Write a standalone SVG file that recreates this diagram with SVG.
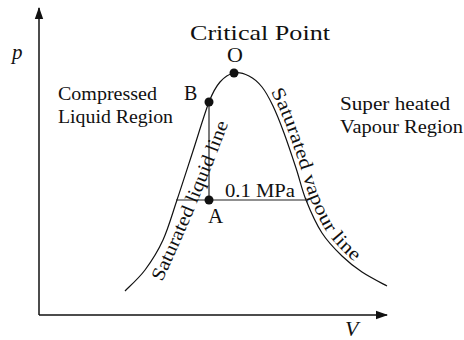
<svg xmlns="http://www.w3.org/2000/svg" width="464" height="340" viewBox="0 0 464 340">
<style>
  text { font-family: 'Liberation Serif', 'DejaVu Serif', serif; fill: #111; }
  .it { font-style: italic; }
  .ax { stroke: #111; stroke-width: 1.5; fill: none; }
  .cv { stroke: #111; stroke-width: 1.2; fill: none; }
  .ln { stroke: #222; stroke-width: 1.2; fill: none; }
  .dot { fill: #111; }
</style>
<defs>
  <marker id="arr" viewBox="0 0 12 10" refX="11" refY="5" markerWidth="12" markerHeight="10" markerUnits="userSpaceOnUse" orient="auto">
    <path d="M0,0.8 L12,5 L0,9.2 Z" fill="#111"/>
  </marker>
  <path id="leftBranch" d="M125,291 C128.3,287.5 138.7,278.5 145,270 C151.3,261.5 157.7,251.7 163,240 C168.3,228.3 172,214.8 177,200 C182,185.2 187.7,167.3 193,151 C198.3,134.7 204.5,113.5 209,102 C213.5,90.5 215.8,86.8 220,82 C224.2,77.2 229.2,74 234,73"/>
  <path id="rightBranch" d="M234,73 C238.8,72 244.3,73.7 249,76 C253.7,78.3 258,82 262,87 C266,92 269.3,98.3 273,106 C276.7,113.7 280.2,122.7 284,133 C287.8,143.3 292.3,156.8 296,168 C299.7,179.2 301.7,189.2 306,200 C310.3,210.8 316,223.7 322,233 C328,242.3 335.3,249.5 342,256 C348.7,262.5 354.5,267 362,272 C369.5,277 382.8,283.7 387,286"/>
  <path id="liqText" d="M162,282 Q197,208 230,119"/>
</defs>

<g id="axes">
  <line class="ax" x1="39" y1="315" x2="39" y2="8" marker-end="url(#arr)"/>
  <line class="ax" x1="39" y1="315" x2="387" y2="315" marker-end="url(#arr)"/>
  <text class="it" x="12" y="59" font-size="21">p</text>
  <text class="it" x="345" y="336" font-size="22">V</text>
</g>

<g id="connectors">
  <use href="#leftBranch" class="cv"/>
  <use href="#rightBranch" class="cv"/>
  <line class="ln" x1="176" y1="200" x2="306" y2="200"/>
  <line class="ln" x1="209" y1="102" x2="209" y2="200"/>
</g>

<g id="node-O">
  <circle class="dot" cx="234" cy="73" r="4.5"/>
  <text x="227" y="62" font-size="22">O</text>
  <text x="190" y="40" font-size="22" textLength="140" lengthAdjust="spacingAndGlyphs">Critical Point</text>
</g>
<g id="node-B">
  <circle class="dot" cx="209" cy="102" r="4.5"/>
  <text x="184" y="100" font-size="20">B</text>
</g>
<g id="node-A">
  <circle class="dot" cx="209" cy="200" r="4.5"/>
  <text x="208" y="223" font-size="21">A</text>
</g>

<g id="labels">
  <text x="225" y="197" font-size="18" textLength="70" lengthAdjust="spacingAndGlyphs">0.1 MPa</text>
  <text x="58" y="100" font-size="19" textLength="99" lengthAdjust="spacingAndGlyphs">Compressed</text>
  <text x="58" y="123" font-size="19" textLength="115" lengthAdjust="spacingAndGlyphs">Liquid Region</text>
  <text x="340" y="110" font-size="19" textLength="110" lengthAdjust="spacingAndGlyphs">Super heated</text>
  <text x="340" y="133" font-size="19" textLength="123" lengthAdjust="spacingAndGlyphs">Vapour Region</text>
  <text font-size="19"><textPath href="#liqText" textLength="172" lengthAdjust="spacingAndGlyphs">Saturated liquid line</textPath></text>
  <text font-size="19" transform="translate(4,-2)"><textPath href="#rightBranch" startOffset="41" textLength="192" lengthAdjust="spacingAndGlyphs">Saturated vapour line</textPath></text>
</g>
</svg>
